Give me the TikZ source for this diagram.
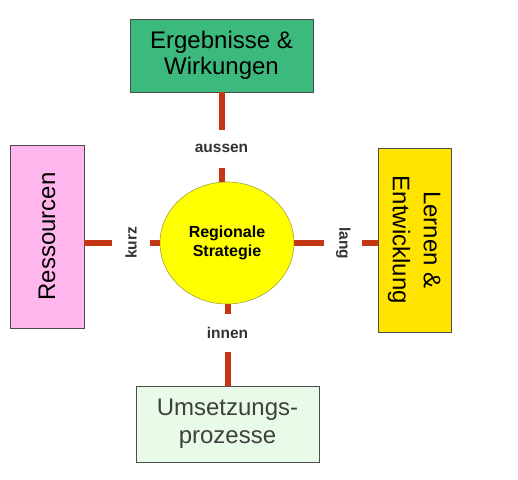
\documentclass[tikz,border=0pt]{standalone}
\usepackage{fontspec}
\setmainfont{Liberation Sans}
\usepackage{graphicx}
\usepackage{tikz}
\usetikzlibrary{shapes.geometric}
\usetikzlibrary{positioning}
\definecolor{rostrot}{RGB}{195,55,20}
\definecolor{ergruen}{RGB}{60,185,125}
\definecolor{resrosa}{RGB}{255,182,236}
\definecolor{lerngelb}{RGB}{255,228,0}
\definecolor{umsgruen}{RGB}{232,250,232}
\definecolor{kreisgelb}{RGB}{255,255,0}
\begin{document}
\begin{tikzpicture}[x=1pt, y=-1pt]
		\tikzstyle{feld}=[rectangle, draw=black!70, line width=0.8pt, align=center, inner sep=0pt, font=\fontsize{24}{26}\selectfont]
		\tikzstyle{verbindung}=[draw=rostrot, line width=6pt]
		\tikzstyle{luecke}=[fill=white, inner sep=1pt, minimum height=38, text=black!80, font=\bfseries\fontsize{15.5}{17}\selectfont]
		\useasboundingbox (0,0) rectangle (518,479);

		% mitte
		\node[ellipse, minimum width=134, minimum height=122, fill=kreisgelb, draw=black!40!yellow, line width=0.6pt, align=center, font=\bfseries\fontsize{16}{19}\selectfont] (strat) at (227,243) {Regionale\\Strategie};

		% vier felder
		\node[feld, fill=ergruen, minimum width=183, minimum height=73] (erg) at (221.5,55.5) {Ergebnisse \&\\Wirkungen};
		\node[feld, fill=resrosa, minimum width=74, minimum height=183] (res) at (47,236.5) {\rotatebox{90}{Ressourcen}};
		\node[feld, fill=lerngelb, minimum width=73, minimum height=184] (lern) at (414.5,240) {\rotatebox{-90}{\fontsize{24}{31}\selectfont\begin{tabular}{@{}c@{}}Lernen \&\\Entwicklung\end{tabular}}};
		\node[feld, fill=umsgruen, minimum width=183, minimum height=76, text=black!75, font=\fontsize{24}{28}\selectfont] (ums) at (227.5,424) {Umsetzungs-\\prozesse};

		% verbindungen
		\path (erg.south) edge[verbindung] node[luecke, pos=0.63]{aussen} (erg.south |- strat.north);
		\path (ums.north) edge[verbindung] node[luecke, pos=0.65]{innen} (ums.north |- strat.south);
		\path (res.east |- strat) edge[verbindung] node[luecke, rotate=90, pos=0.62]{kurz} (strat.west);
		\path (lern.west |- strat) edge[verbindung] node[luecke, rotate=-90, pos=0.41]{lang} (strat.east);

	\end{tikzpicture}
\end{document}
